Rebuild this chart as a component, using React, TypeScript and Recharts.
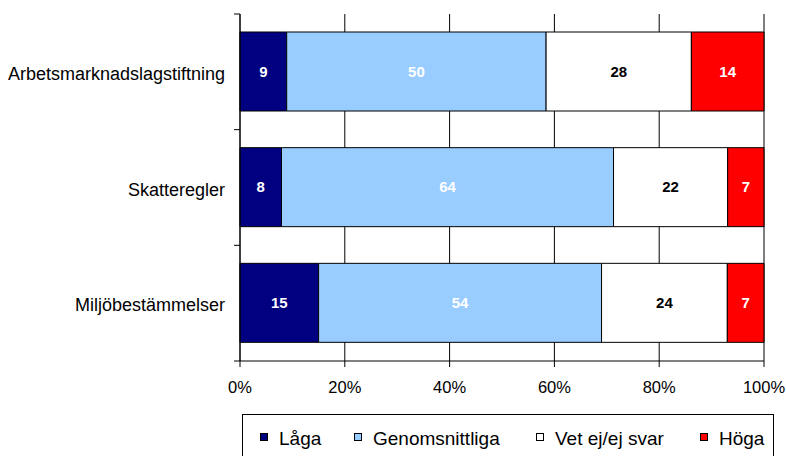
import { BarChart, Bar, XAxis, YAxis, CartesianGrid, LabelList } from 'recharts';

const categories = ['Arbetsmarknadslagstiftning', 'Skatteregler', 'Miljöbestämmelser'];
const laga = [9, 8, 15];
const genomsnittliga = [50, 64, 54];
const vetEj = [28, 22, 24];
const hoga = [14, 7, 7];
const xTicks = [0, 0.2, 0.4, 0.6, 0.8, 1];

const series = [
  { key: 'laga', name: 'Låga', color: '#000080', label: '#fff' },
  { key: 'genomsnittliga', name: 'Genomsnittliga', color: '#99ccff', label: '#fff' },
  { key: 'vetEj', name: 'Vet ej/ej svar', color: '#ffffff', label: '#000' },
  { key: 'hoga', name: 'Höga', color: '#ff0000', label: '#fff' },
];

const data = categories.map((name, i) => ({
  name,
  laga: laga[i],
  genomsnittliga: genomsnittliga[i],
  vetEj: vetEj[i],
  hoga: hoga[i],
}));

const FONT = '"Liberation Sans", Arial, sans-serif';
const PLOT_LEFT = 240;
const PLOT_TOP = 14;
const PLOT_HEIGHT = 347;
const BAND = PLOT_HEIGHT / categories.length;

function YTick(props: any) {
  const { y, payload, index } = props;
  return (
    <g>
      <text x={PLOT_LEFT - 15} y={y + 2} dy="0.35em" textAnchor="end" fontSize={18} fill="#000" fontFamily={FONT}>
        {payload.value}
      </text>
      <line x1={PLOT_LEFT - 6} x2={PLOT_LEFT} y1={y - BAND / 2} y2={y - BAND / 2} stroke="#000" />
      {index === categories.length - 1 && (
        <line x1={PLOT_LEFT - 6} x2={PLOT_LEFT} y1={y + BAND / 2} y2={y + BAND / 2} stroke="#000" />
      )}
    </g>
  );
}

const legendPos = [260, 354, 536, 700];

export default function App() {
  return (
    <div style={{ position: 'absolute', left: 0, top: 0, width: 786, height: 456, overflow: 'hidden', background: '#fff' }}>
      <BarChart
        width={786}
        height={456}
        data={data}
        layout="vertical"
        stackOffset="expand"
        barSize={79}
        margin={{ top: PLOT_TOP, right: 22, bottom: 0, left: 0 }}
        style={{ fontFamily: FONT }}
      >
        <CartesianGrid horizontal={false} stroke="#000" strokeOpacity={1} />
        <XAxis
          type="number"
          domain={[0, 1]}
          ticks={xTicks}
          tickFormatter={(v: number) => `${Math.round(v * 100)}%`}
          height={95}
          axisLine={{ stroke: '#000' }}
          tickLine={{ stroke: '#000' }}
          tickSize={6}
          tickMargin={14}
          tick={{ fill: '#000', fontSize: 16.5 }}
          interval={0}
        />
        <YAxis
          type="category"
          dataKey="name"
          width={PLOT_LEFT}
          axisLine={{ stroke: '#000' }}
          tickLine={false}
          tick={<YTick />}
          interval={0}
        />
        {series.map((s) => (
          <Bar
            key={s.key}
            dataKey={s.key}
            name={s.name}
            stackId="a"
            fill={s.color}
            stroke="#000"
            strokeWidth={1}
            isAnimationActive={false}
          >
            <LabelList
              dataKey={s.key}
              position="center"
              fill={s.label}
              fontWeight="bold"
              fontSize={15}
              fontFamily={FONT}
            />
          </Bar>
        ))}
      </BarChart>
      <svg width={786} height={456} style={{ position: 'absolute', left: 0, top: 0, pointerEvents: 'none' }}>
        <rect x={242.5} y={414.5} width={531} height={60} fill="none" stroke="#000" />
        {series.map((s, i) => (
          <g key={s.key}>
            <rect x={legendPos[i] + 0.5} y={433.5} width={7} height={7} fill={s.color} stroke="#000" />
            <text x={legendPos[i] + 19} y={445} fontSize={19} fill="#000" fontFamily={FONT}>
              {s.name}
            </text>
          </g>
        ))}
      </svg>
    </div>
  );
}
